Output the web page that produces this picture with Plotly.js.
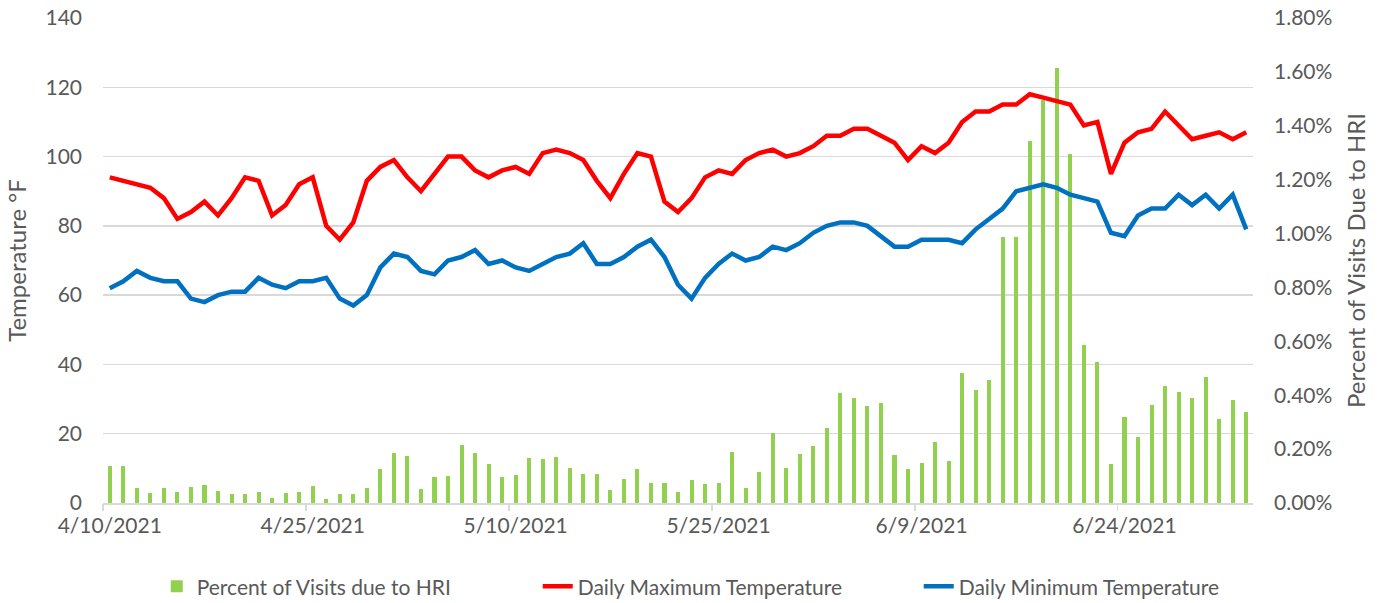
<!DOCTYPE html>
<html><head><meta charset="utf-8">
<script src="https://cdn.plot.ly/plotly-3.0.1.min.js"></script>
<style>html,body{margin:0;padding:0;background:#fff}</style>
</head><body><div id="chart" style="width:1387px;height:603px"></div>
<script>
const startDate = [2021, 3, 10]; // 4/10/2021 (month index 3 = April)
const dayCount = 85;
const maxTemp = [94,93,92,91,88,82,84,87,83,88,94,93,83,86,92,94,80,76,81,93,
  97,99,94,90,95,100,100,96,94,96,97,95,101,102,101,99,93,88,95,101,
  100,87,84,88,94,96,95,99,101,102,100,101,103,106,106,108,108,106,104,99,
  103,101,104,110,113,113,115,115,118,117,116,115,109,110,95,104,107,108,113,109,
  105,106,107,105,107];
const minTemp = [62,64,67,65,64,64,59,58,60,61,61,65,63,62,64,64,65,59,57,60,
  68,72,71,67,66,70,71,73,69,70,68,67,69,71,72,75,69,69,71,74,
  76,71,63,59,65,69,72,70,71,74,73,75,78,80,81,81,80,77,74,74,
  76,76,76,75,79,82,85,90,91,92,91,89,88,87,78,77,83,85,85,89,
  86,89,85,89,79];
const hriPct = [0.136,0.136,0.055,0.037,0.057,0.039,0.059,0.067,0.045,0.035,
  0.035,0.039,0.017,0.037,0.042,0.064,0.016,0.035,0.035,0.055,
  0.126,0.185,0.174,0.051,0.096,0.100,0.216,0.186,0.143,0.095,
  0.104,0.167,0.165,0.170,0.131,0.108,0.108,0.049,0.089,0.127,
  0.073,0.075,0.041,0.085,0.069,0.073,0.188,0.057,0.114,0.258,
  0.130,0.183,0.210,0.279,0.410,0.388,0.360,0.373,0.177,0.127,
  0.149,0.228,0.157,0.482,0.419,0.458,0.986,0.986,1.342,1.494,
  1.615,1.295,0.586,0.525,0.143,0.318,0.244,0.363,0.436,0.413,
  0.390,0.468,0.312,0.381,0.339];
const tickDates = ['2021-04-10','2021-04-25','2021-05-10','2021-05-25','2021-06-09','2021-06-24'];
const tickLabels = ['4/10/2021','4/25/2021','5/10/2021','5/25/2021','6/9/2021','6/24/2021'];
const seriesNames = ['Percent of Visits due to HRI','Daily Maximum Temperature','Daily Minimum Temperature'];

const DAY = 86400000;
const t0 = Date.UTC(startDate[0], startDate[1], startDate[2]);
const dates = [];
for (let i = 0; i < dayCount; i++) dates.push(new Date(t0 + i * DAY).toISOString().slice(0, 10));
const fmt = ms => new Date(ms).toISOString().replace('T', ' ').slice(0, 16);
const rangeX = [fmt(t0 - DAY / 2), fmt(t0 + (dayCount - 0.5) * DAY)];
const boundaryTicks = tickDates.map(d => fmt(Date.parse(d + 'T00:00:00Z') - DAY / 2));

const gray = '#595959';
const fam = 'Lato, "Open Sans", sans-serif';
const font = {family: fam, size: 21, color: gray};
const titleFont = {family: fam, size: 24, color: gray};

const traces = [
  {type: 'bar', x: dates, y: hriPct, name: seriesNames[0], xaxis: 'x', yaxis: 'y',
   marker: {color: '#92D050'}, width: 0.3 * DAY},
  {type: 'scatter', mode: 'lines', x: dates, y: maxTemp, name: seriesNames[1], xaxis: 'x', yaxis: 'y2',
   line: {color: '#FF0000', width: 4.5}},
  {type: 'scatter', mode: 'lines', x: dates, y: minTemp, name: seriesNames[2], xaxis: 'x', yaxis: 'y2',
   line: {color: '#0070C0', width: 4.5}},
  {type: 'scatter', mode: 'markers', x: [dates[0]], y: [0], xaxis: 'x2', yaxis: 'y2',
   marker: {opacity: 0}, showlegend: false, hoverinfo: 'skip'}
];

const layout = {
  width: 1387, height: 603,
  margin: {l: 103, r: 134, t: 18, b: 100, autoexpand: false},
  paper_bgcolor: '#fff', plot_bgcolor: 'rgba(0,0,0,0)',
  font: font,
  showlegend: true,
  legend: {orientation: 'h', xref: 'container', yref: 'container',
    x: 0.113, xanchor: 'left', y: 0.027, yanchor: 'middle',
    font: font, entrywidth: 336, entrywidthmode: 'pixels', traceorder: 'normal'},
  xaxis: {type: 'date', range: rangeX, tickvals: tickDates, ticktext: tickLabels,
    ticks: '', showgrid: false, showline: true, linecolor: '#D9D9D9', linewidth: 1.5,
    tickfont: font, zeroline: false, ticklabelstandoff: 3, automargin: false},
  xaxis2: {type: 'date', range: rangeX, overlaying: 'x', tickvals: boundaryTicks,
    ticks: 'outside', ticklen: 7, tickcolor: '#D9D9D9', tickwidth: 1.5,
    showticklabels: false, showgrid: false, showline: false, zeroline: false, side: 'bottom', automargin: false},
  yaxis: {range: [0, 1.8], dtick: 0.2, tick0: 0, side: 'right', tickformat: '.2f', ticksuffix: '%',
    showgrid: false, zeroline: false, showline: false, tickfont: font, ticklabelstandoff: 20, automargin: false,
    title: {text: 'Percent of Visits Due to HRI', font: titleFont, standoff: 16}},
  yaxis2: {range: [0, 140], dtick: 20, tick0: 0, overlaying: 'y', side: 'left',
    showgrid: true, gridcolor: '#D9D9D9', gridwidth: 1.5, zeroline: false, showline: false, tickfont: font,
    ticklabelstandoff: 20, automargin: false,
    title: {text: 'Temperature °F', font: titleFont, standoff: 12}},
  bargap: 0
};

Plotly.newPlot('chart', traces, layout, {displayModeBar: false, staticPlot: true});
</script>
</body></html>
